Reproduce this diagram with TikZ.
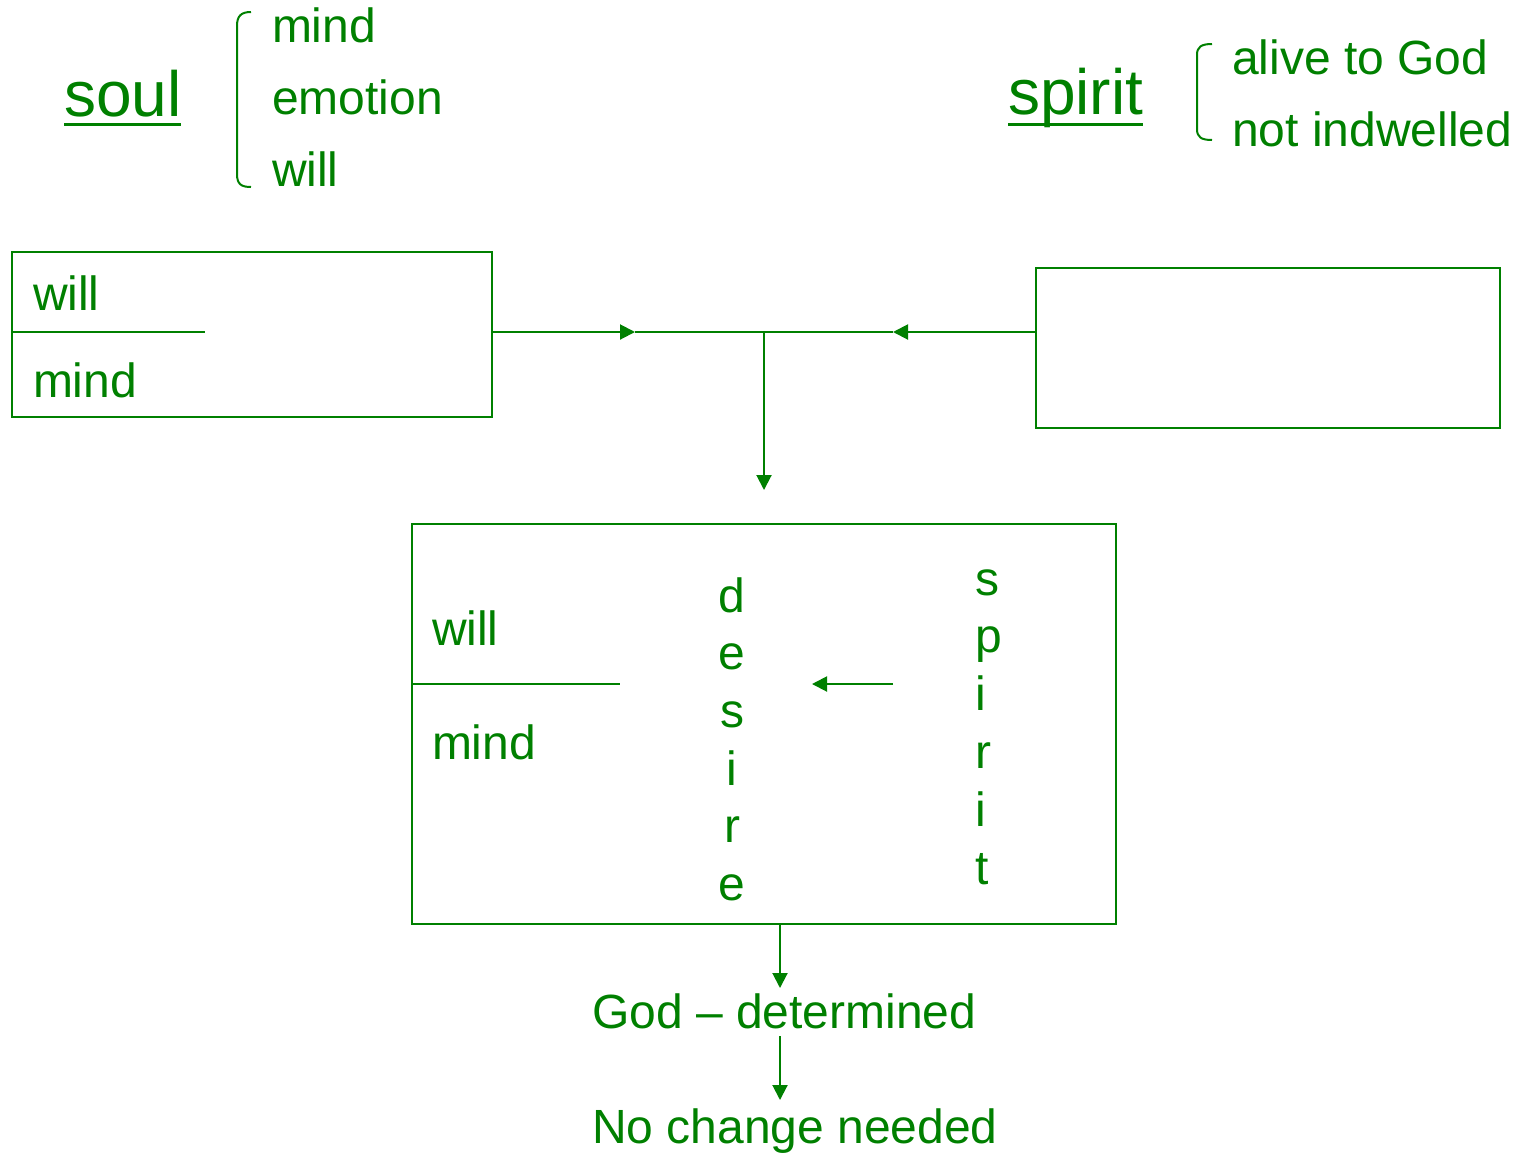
\documentclass[tikz,border=0pt]{standalone}
\usepackage{fontspec}
\setmainfont{Liberation Sans}
\usetikzlibrary{arrows.meta}
\definecolor{dg}{RGB}{0,128,0}
\begin{document}
\begin{tikzpicture}[x=1pt,y=-1pt,
  every node/.style={inner sep=0pt,outer sep=0pt,text=dg},
  txt/.style={anchor=base west,font=\fontsize{48}{56}\selectfont},
  big/.style={anchor=base west,font=\fontsize{64}{72}\selectfont},
  letter/.style={anchor=base,font=\fontsize{48}{56}\selectfont},
  boxx/.style={draw=dg,line width=2pt,rectangle},
  ln/.style={draw=dg,line width=2pt},
  tip/.style={ln,-{Triangle[length=15pt,width=15pt]}},
]
\useasboundingbox (0,0) rectangle (1525,1152);
% top labels
\node[big] (soul) at (64,116) {soul};
\draw[dg,line width=3pt] ([yshift=-8pt]soul.base west) -- ([yshift=-8pt]soul.base east);
\node[big] (spirit) at (1008,114) {spirit};
\draw[dg,line width=3pt] ([yshift=-10pt]spirit.base west) -- ([yshift=-10pt]spirit.base east);
\draw[ln] (251,12) .. controls (241,12) and (237,16) .. (237,26) -- (237,174) .. controls (237,184) and (241,187) .. (251,187);
\node[txt] (m1) at (272,42) {mind};
\node[txt] (e1) at (272,114) {emotion};
\node[txt] (w1) at (272,186) {will};
\draw[ln] (1212,44) .. controls (1201,44) and (1197,47) .. (1197,55) -- (1197,129) .. controls (1197,137) and (1201,140) .. (1212,140);
\node[txt] (a1) at (1232,74) {alive to God};
\node[txt] (n1) at (1232,146) {not indwelled};
% boxes
\node[boxx,minimum width=480pt,minimum height=165pt] (box1) at (252,334.5) {};
\node[boxx,minimum width=464pt,minimum height=160pt] (box2) at (1268,348) {};
\node[boxx,minimum width=704pt,minimum height=400pt] (box3) at (764,724) {};
\coordinate (d1) at (205,332);
\draw[ln] (box1.west |- d1) -- (d1);
\node[txt] (bw1) at (33,310) {will};
\node[txt] (bm1) at (33,397) {mind};
\coordinate (d3) at (620,684);
\draw[ln] (box3.west |- d3) -- (d3);
\node[txt] (bw3) at (432,645) {will};
\node[txt] (bm3) at (432,759) {mind};
% connectors top
\coordinate (j1) at (635,332);
\coordinate (j2) at (893,332);
\coordinate (jm) at (764,332);
\coordinate (jd) at (764,490);
\draw[tip] (box1.east |- jm) -- (j1);
\draw[tip] (box2.west |- jm) -- (j2);
\draw[ln] (j1) -- (j2);
\draw[tip] (jm) -- (jd);
% desire / spirit columns
\foreach \c [count=\i from 0] in {d,e,s,i,r,e}
  \node[letter] (des\i) at (732,612+57.7*\i) {\c};
\foreach \c [count=\i from 0] in {s,p,i,r,i,t}
  \node[letter,anchor=base west] (spi\i) at (975,595+57.9*\i) {\c};
\coordinate (ia) at (893,684);
\coordinate (ib) at (812,684);
\draw[tip] (ia) -- (ib);
% bottom
\coordinate (g0) at (780,924);
\coordinate (g1) at (780,988);
\draw[tip] (g0) -- (g1);
\node[txt] (god) at (592,1028) {God – determined};
\coordinate (g2) at (780,1036);
\coordinate (g3) at (780,1100);
\draw[tip] (g2) -- (g3);
\node[txt] (nc) at (592,1143) {No change needed};
\end{tikzpicture}
\end{document}
